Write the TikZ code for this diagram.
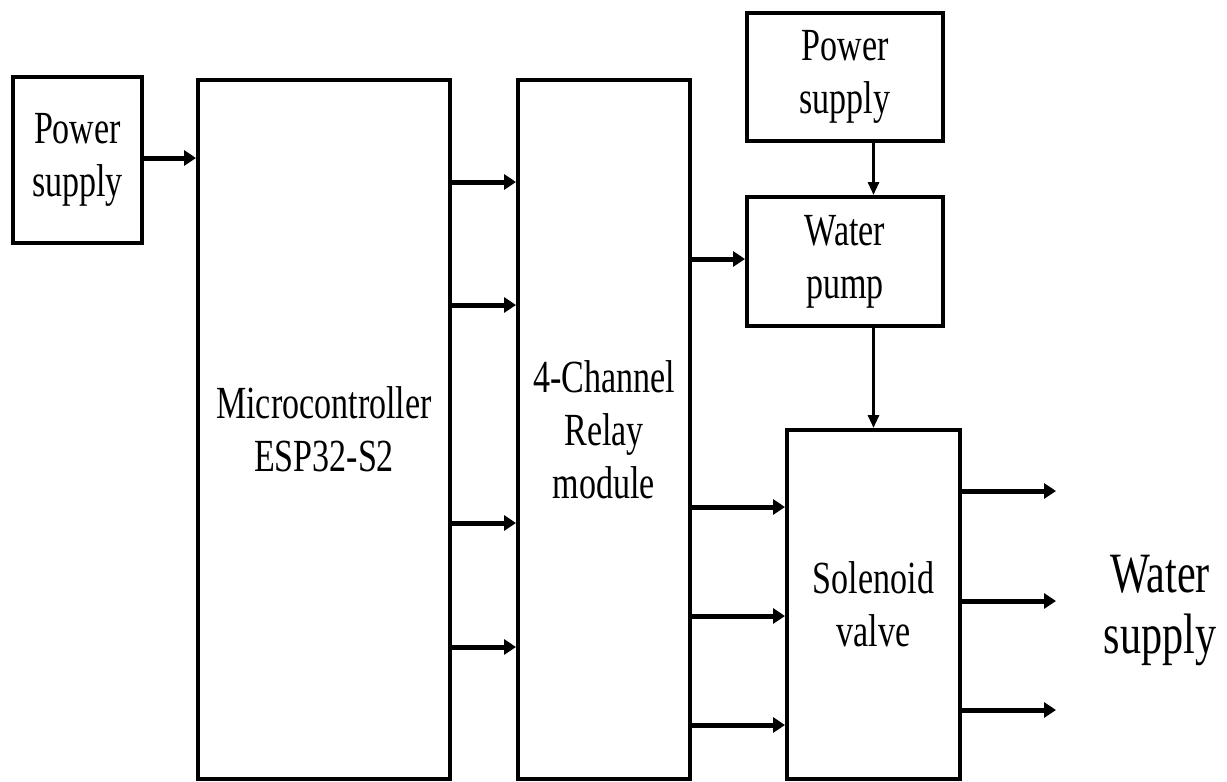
\documentclass[tikz,border=0pt]{standalone}
\usepackage{fontspec}
\setmainfont{Liberation Serif}[FakeStretch=0.74]
\usetikzlibrary{arrows.meta}
\tikzset{
  blk/.style={draw=black, line width=4pt, fill=white, rectangle, inner sep=0pt, align=center,
    font=\fontsize{46}{53}\selectfont},
  arr/.style={line width=5pt, -{Triangle[length=12pt,width=15pt]}},
  varr/.style={line width=3pt, -{Triangle[length=13pt,width=11pt]}},
  lbl/.style={align=center, font=\fontsize{57}{61}\selectfont}
}
\begin{document}
\begin{tikzpicture}[x=1pt,y=-1pt]
\useasboundingbox (0,0) rectangle (1227,782);
\node[blk, minimum width=129pt, minimum height=166pt] (ps1) at (77.5,160) {Power\\supply};
\node[blk, minimum width=252pt, minimum height=699pt] (mcu) at (324,429.5) {Microcontroller\\ESP32-S2};
\node[blk, minimum width=172pt, minimum height=699pt] (relay) at (604,429.5) {4-Channel\\Relay\\module};
\node[blk, minimum width=196pt, minimum height=128pt] (ps2) at (845,77) {Power\\supply};
\node[blk, minimum width=196pt, minimum height=129pt] (pump) at (845,261.5) {Water\\pump};
\node[blk, minimum width=173pt, minimum height=349pt] (sol) at (873.5,604.5) {Solenoid\\valve};
\node[lbl] (ws) at (1160,610) {Water\\supply};

\coordinate (o1) at (1056,491);
\coordinate (o2) at (1056,601);
\coordinate (o3) at (1056,710);

\draw[arr] (ps1.east |- 0,158) -- (mcu.west |- 0,158);
\foreach \yy in {182,305,523,647}
  \draw[arr] (mcu.east |- 0,\yy) -- (relay.west |- 0,\yy);
\draw[arr] (relay.east |- 0,259) -- (pump.west |- 0,259);
\foreach \yy in {507,616,725}
  \draw[arr] (relay.east |- 0,\yy) -- (sol.west |- 0,\yy);
\draw[varr] (ps2.south -| sol.north) -- (pump.north -| sol.north);
\draw[varr] (pump.south -| sol.north) -- (sol.north);
\draw[arr] (sol.east |- o1) -- (o1);
\draw[arr] (sol.east |- o2) -- (o2);
\draw[arr] (sol.east |- o3) -- (o3);
\end{tikzpicture}
\end{document}
